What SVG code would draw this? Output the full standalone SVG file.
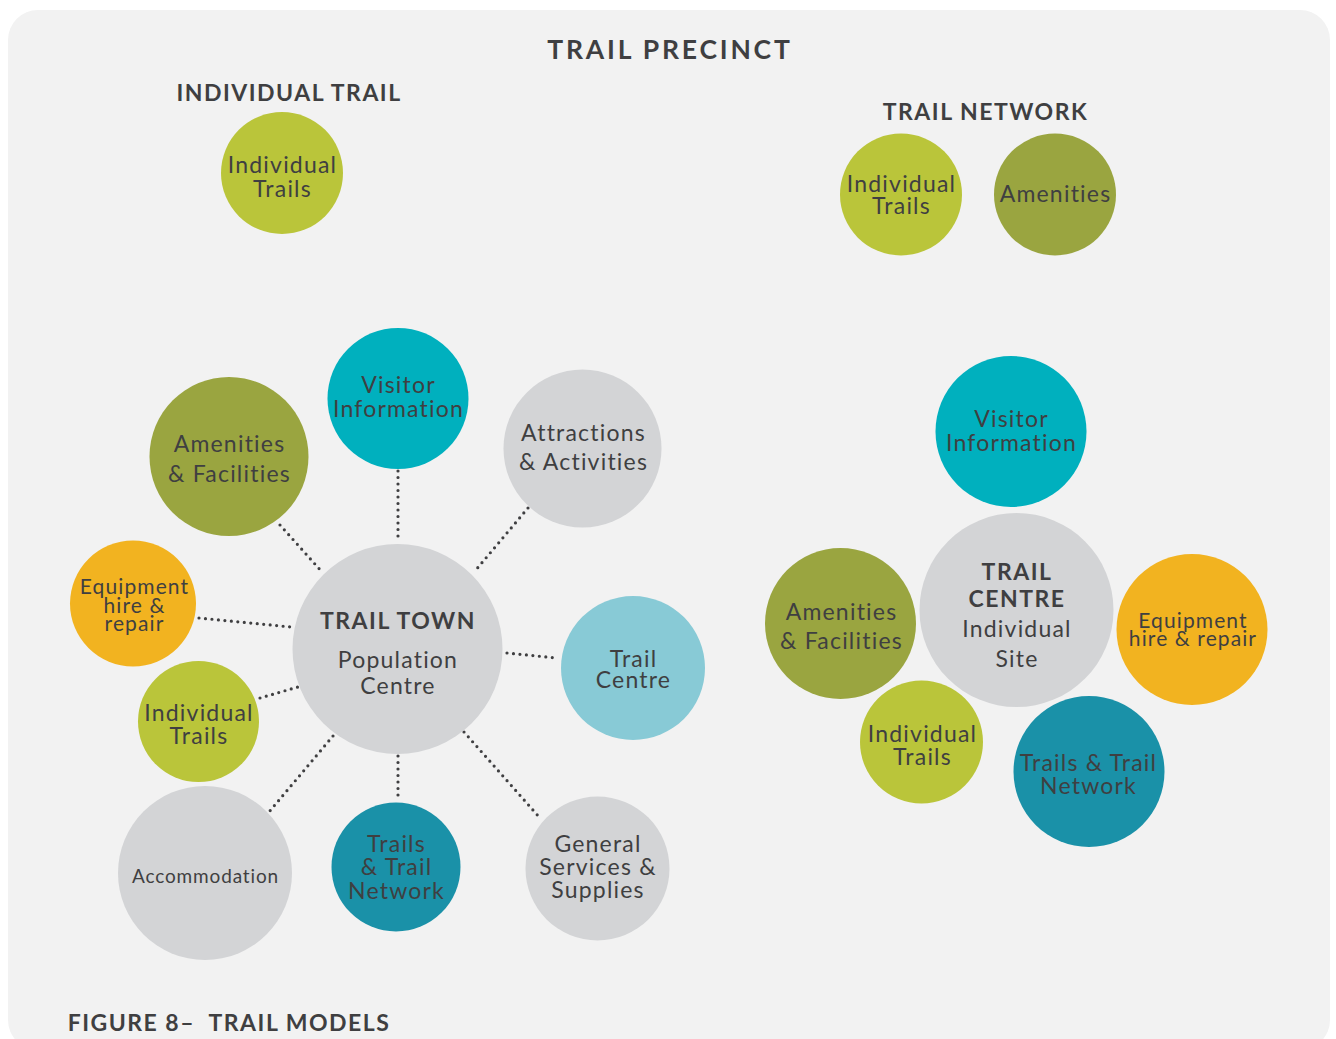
<svg xmlns="http://www.w3.org/2000/svg" width="1336" height="1039" viewBox="0 0 1336 1039">
<style>
  text { font-family: Lato, "Open Sans", "Liberation Sans", sans-serif; fill: #3f3f41; text-anchor: middle; }
  .h { font-weight: 700; font-size: 26.5px; letter-spacing: 2.8px; }
  .sh { font-weight: 700; font-size: 23px; letter-spacing: 1.5px; }
  .t { font-size: 23px; letter-spacing: 1.2px; }
  .s { font-size: 21px; letter-spacing: 1.1px; }
  .xs { font-size: 19px; letter-spacing: 0.85px; }
  .lg { fill: #bac53a; }
  .ol { fill: #9aa540; }
  .tq { fill: #00b0be; }
  .gr { fill: #d3d4d6; }
  .or { fill: #f2b320; }
  .lb { fill: #88cad6; }
  .dt { fill: #1a91a8; }
  .con line { stroke: #3f3f41; stroke-width: 3.2; stroke-linecap: round; stroke-dasharray: 0 6.5; fill: none; }
</style>
<rect x="0" y="0" width="1336" height="1039" fill="#ffffff"/>
<rect x="8" y="10" width="1322" height="1040" rx="30" ry="30" fill="#f2f2f2"/>

<text class="h" x="670" y="59">TRAIL PRECINCT</text>
<text class="sh" x="289" y="101">INDIVIDUAL TRAIL</text>
<text class="sh" x="985.5" y="120">TRAIL NETWORK</text>
<text class="sh" x="229" y="1031" xml:space="preserve">FIGURE 8–  TRAIL MODELS</text>

<g id="it-top">
  <circle class="lg" cx="282" cy="173" r="61"/>
  <text class="t" x="282.5" y="173">Individual</text>
  <text class="t" x="282.5" y="197">Trails</text>
</g>
<g id="tn-trails">
  <circle class="lg" cx="901" cy="194.5" r="61"/>
  <text class="t" x="901.5" y="192">Individual</text>
  <text class="t" x="901.5" y="214">Trails</text>
</g>
<g id="tn-amen">
  <circle class="ol" cx="1055" cy="194.5" r="61"/>
  <text class="t" x="1055.5" y="202">Amenities</text>
</g>

<g class="con" id="connectors">
  <line x1="398" y1="471" x2="398" y2="542"/>
  <line x1="280" y1="525" x2="323" y2="573"/>
  <line x1="199" y1="618" x2="291" y2="627"/>
  <line x1="260" y1="698" x2="298" y2="687"/>
  <line x1="528" y1="508" x2="475" y2="571"/>
  <line x1="507" y1="653" x2="557" y2="658"/>
  <line x1="464" y1="732" x2="540" y2="818"/>
  <line x1="398" y1="756" x2="398" y2="797"/>
  <line x1="333" y1="736" x2="269" y2="812"/>
</g>

<g id="town">
  <circle class="gr" cx="397.5" cy="649" r="105"/>
  <text class="sh" x="398" y="629">TRAIL TOWN</text>
  <text class="t" x="398" y="668">Population</text>
  <text class="t" x="398" y="694">Centre</text>
</g>
<g id="town-visitor">
  <circle class="tq" cx="398" cy="398.5" r="70.5"/>
  <text class="t" x="398.5" y="393">Visitor</text>
  <text class="t" x="398.5" y="417">Information</text>
</g>
<g id="town-amen">
  <circle class="ol" cx="229" cy="456.5" r="79.5"/>
  <text class="t" x="229.5" y="452">Amenities</text>
  <text class="t" x="229.5" y="482">&amp; Facilities</text>
</g>
<g id="town-attr">
  <circle class="gr" cx="582.5" cy="448.5" r="79"/>
  <text class="t" x="583.5" y="441">Attractions</text>
  <text class="t" x="583.5" y="470">&amp; Activities</text>
</g>
<g id="town-equip">
  <circle class="or" cx="133" cy="603.5" r="63"/>
  <text class="s" x="134.5" y="594">Equipment</text>
  <text class="s" x="134.5" y="613">hire &amp;</text>
  <text class="s" x="134.5" y="631">repair</text>
</g>
<g id="town-tc">
  <circle class="lb" cx="633" cy="668" r="72"/>
  <text class="t" x="633.5" y="667">Trail</text>
  <text class="t" x="633.5" y="688">Centre</text>
</g>
<g id="town-it">
  <circle class="lg" cx="198.5" cy="721.5" r="60.5"/>
  <text class="t" x="199" y="721">Individual</text>
  <text class="t" x="199" y="744">Trails</text>
</g>
<g id="town-acc">
  <circle class="gr" cx="205" cy="873" r="87"/>
  <text class="xs" x="205.5" y="883">Accommodation</text>
</g>
<g id="town-tn">
  <circle class="dt" cx="396" cy="867" r="64.5"/>
  <text class="t" x="396.5" y="852">Trails</text>
  <text class="t" x="396.5" y="875">&amp; Trail</text>
  <text class="t" x="396.5" y="899">Network</text>
</g>
<g id="town-gen">
  <circle class="gr" cx="597.5" cy="868.5" r="72"/>
  <text class="t" x="598" y="852">General</text>
  <text class="t" x="598" y="875">Services &amp;</text>
  <text class="t" x="598" y="898">Supplies</text>
</g>

<g id="tc-visitor">
  <circle class="tq" cx="1011" cy="431.5" r="75.5"/>
  <text class="t" x="1011.5" y="427">Visitor</text>
  <text class="t" x="1011.5" y="451">Information</text>
</g>
<g id="tc-centre">
  <circle class="gr" cx="1016.5" cy="610" r="97"/>
  <text class="sh" x="1017" y="580">TRAIL</text>
  <text class="sh" x="1017" y="607">CENTRE</text>
  <text class="t" x="1017" y="637">Individual</text>
  <text class="t" x="1017" y="667">Site</text>
</g>
<g id="tc-amen">
  <circle class="ol" cx="840.5" cy="623.5" r="75.5"/>
  <text class="t" x="841.5" y="620">Amenities</text>
  <text class="t" x="841.5" y="649">&amp; Facilities</text>
</g>
<g id="tc-equip">
  <circle class="or" cx="1192" cy="629.5" r="75.5"/>
  <text class="s" x="1193" y="628">Equipment</text>
  <text class="s" x="1193" y="646">hire &amp; repair</text>
</g>
<g id="tc-it">
  <circle class="lg" cx="921.5" cy="742" r="61.5"/>
  <text class="t" x="922.5" y="742">Individual</text>
  <text class="t" x="922.5" y="765">Trails</text>
</g>
<g id="tc-tn">
  <circle class="dt" cx="1089" cy="771.5" r="75.5"/>
  <text class="t" x="1088.5" y="771">Trails &amp; Trail</text>
  <text class="t" x="1088.5" y="794">Network</text>
</g>
</svg>
